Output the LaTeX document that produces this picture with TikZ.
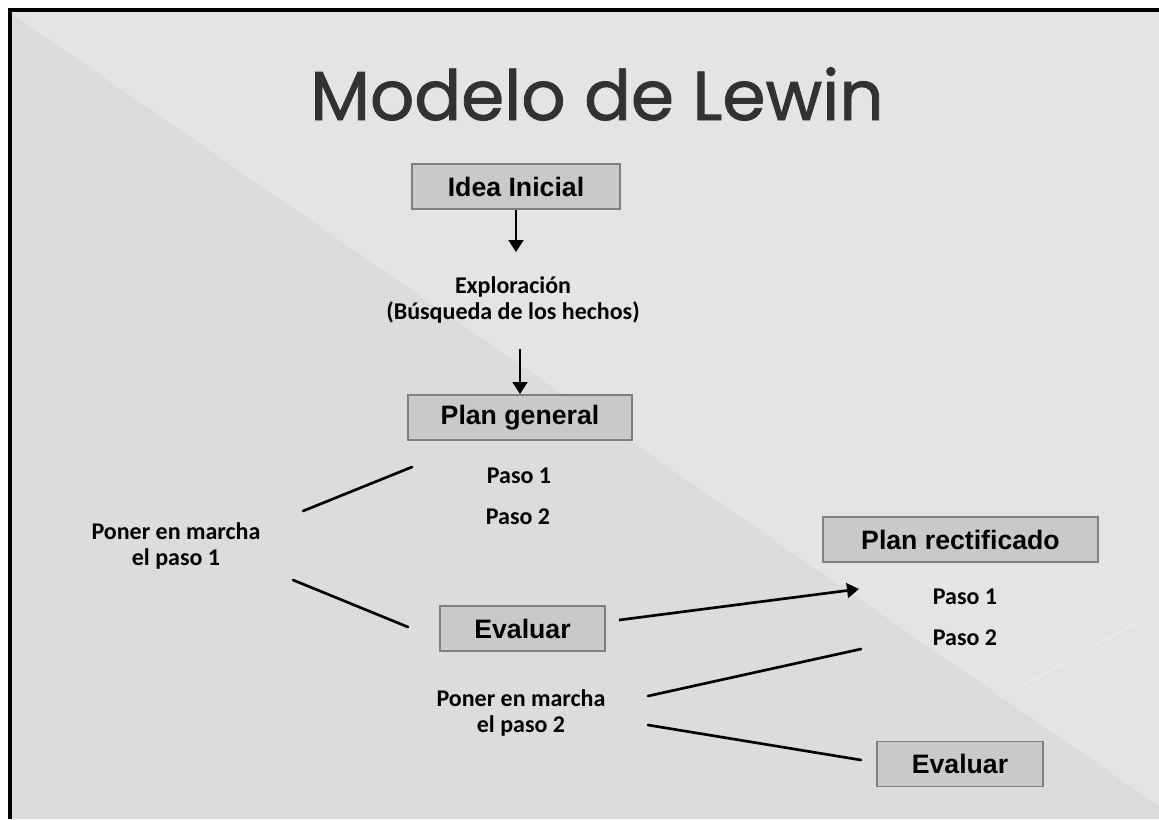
\documentclass[tikz,border=0pt]{standalone}
\usepackage{fontspec}
\setmainfont{Liberation Sans}
\newfontfamily\titlefont[BoldFont=Poppins, BoldFeatures={FakeBold=1.2}]{Poppins}
\newfontfamily\bodyfont{Carlito}
\usetikzlibrary{arrows.meta}

\definecolor{bgLight}{RGB}{228,228,228}
\definecolor{bgDark}{RGB}{220,220,220}
\definecolor{boxFill}{RGB}{201,201,201}
\definecolor{boxLine}{RGB}{128,128,128}
\definecolor{titleGray}{RGB}{50,50,50}

\begin{document}
\begin{tikzpicture}[x=0.75pt,y=0.75pt,yscale=-1,xscale=1,
    stepbox/.style={draw=boxLine, line width=1.2pt, fill=boxFill, minimum height=34pt, inner sep=0pt, font=\bfseries\fontsize{20}{24}\selectfont},
    note/.style={align=center, inner sep=0pt, font=\bodyfont\bfseries\fontsize{18}{20}\selectfont},
    flow/.style={line width=2pt, -{Triangle[length=9pt,width=11pt]}},
    stroke/.style={line width=2pt, line cap=round}]
    \useasboundingbox (0,0) rectangle (1159,819);

    %Shape: Background
    \fill [white] (0,0) rectangle (1159,819);
    \fill [bgLight] (10,10) rectangle (1159,819);
    \fill [bgDark] (12,14) -- (1159,806) -- (1159,819) -- (12,819) -- cycle;
    \draw [white, opacity=0.25, line width=1pt] (997,700) -- (1159,610);
    %Shape: Frame
    \draw [line width=3pt] (10,819) -- (10,10) -- (1159,10);

    % Text Node
    \node [font=\titlefont\bfseries\fontsize{52}{60}\selectfont, text=titleGray, anchor=base] (title) at (597,120) {Modelo de Lewin};

    % Boxes and text
    \node [stepbox, minimum width=156pt] (idea) at (516,186.5) {Idea Inicial};
    \node [note] (explor) at (513,300) {Exploración\\(Búsqueda de los hechos)};
    \node [stepbox, minimum width=168pt] (plan) at (520,417.5) {Plan general};
    \node [note] (pasoA) at (519,476) {Paso 1};
    \node [note] (pasoB) at (518,517) {Paso 2};
    \node [note] (marchaA) at (176,546) {Poner en marcha\\el paso 1};
    \node [stepbox, minimum width=124pt] (evalA) at (522.5,628.5) {Evaluar};
    \node [note] (marchaB) at (521,713) {Poner en marcha\\el paso 2};
    \node [stepbox, minimum width=206pt] (rectif) at (960.5,539.5) {Plan rectificado};
    \node [note] (pasoC) at (965,597) {Paso 1};
    \node [note] (pasoD) at (965,638) {Paso 2};
    \node [stepbox, minimum width=124.5pt] (evalB) at (960,764) {Evaluar};

    % Line ends
    \coordinate (aS) at (303,511);
    \coordinate (aE) at (412,467);
    \coordinate (bS) at (293,580);
    \coordinate (bE) at (408,627);
    \coordinate (cS) at (619,620);
    \coordinate (cE) at (859,589);
    \coordinate (dS) at (648,696);
    \coordinate (dE) at (861,649);
    \coordinate (eS) at (648,725);
    \coordinate (eE) at (861,760);

    % Connectors
    \draw [flow, shorten >=18pt] (idea.south) -- (idea.south |- explor.north);
    \draw [flow, shorten <=19pt] (plan.north |- explor.south) -- (plan.north);
    \draw [stroke] (aS) -- (aE);
    \draw [stroke] (bS) -- (bE);
    \draw [flow] (cS) -- (cE);
    \draw [stroke] (dS) -- (dE);
    \draw [stroke] (eS) -- (eE);
\end{tikzpicture}
\end{document}
